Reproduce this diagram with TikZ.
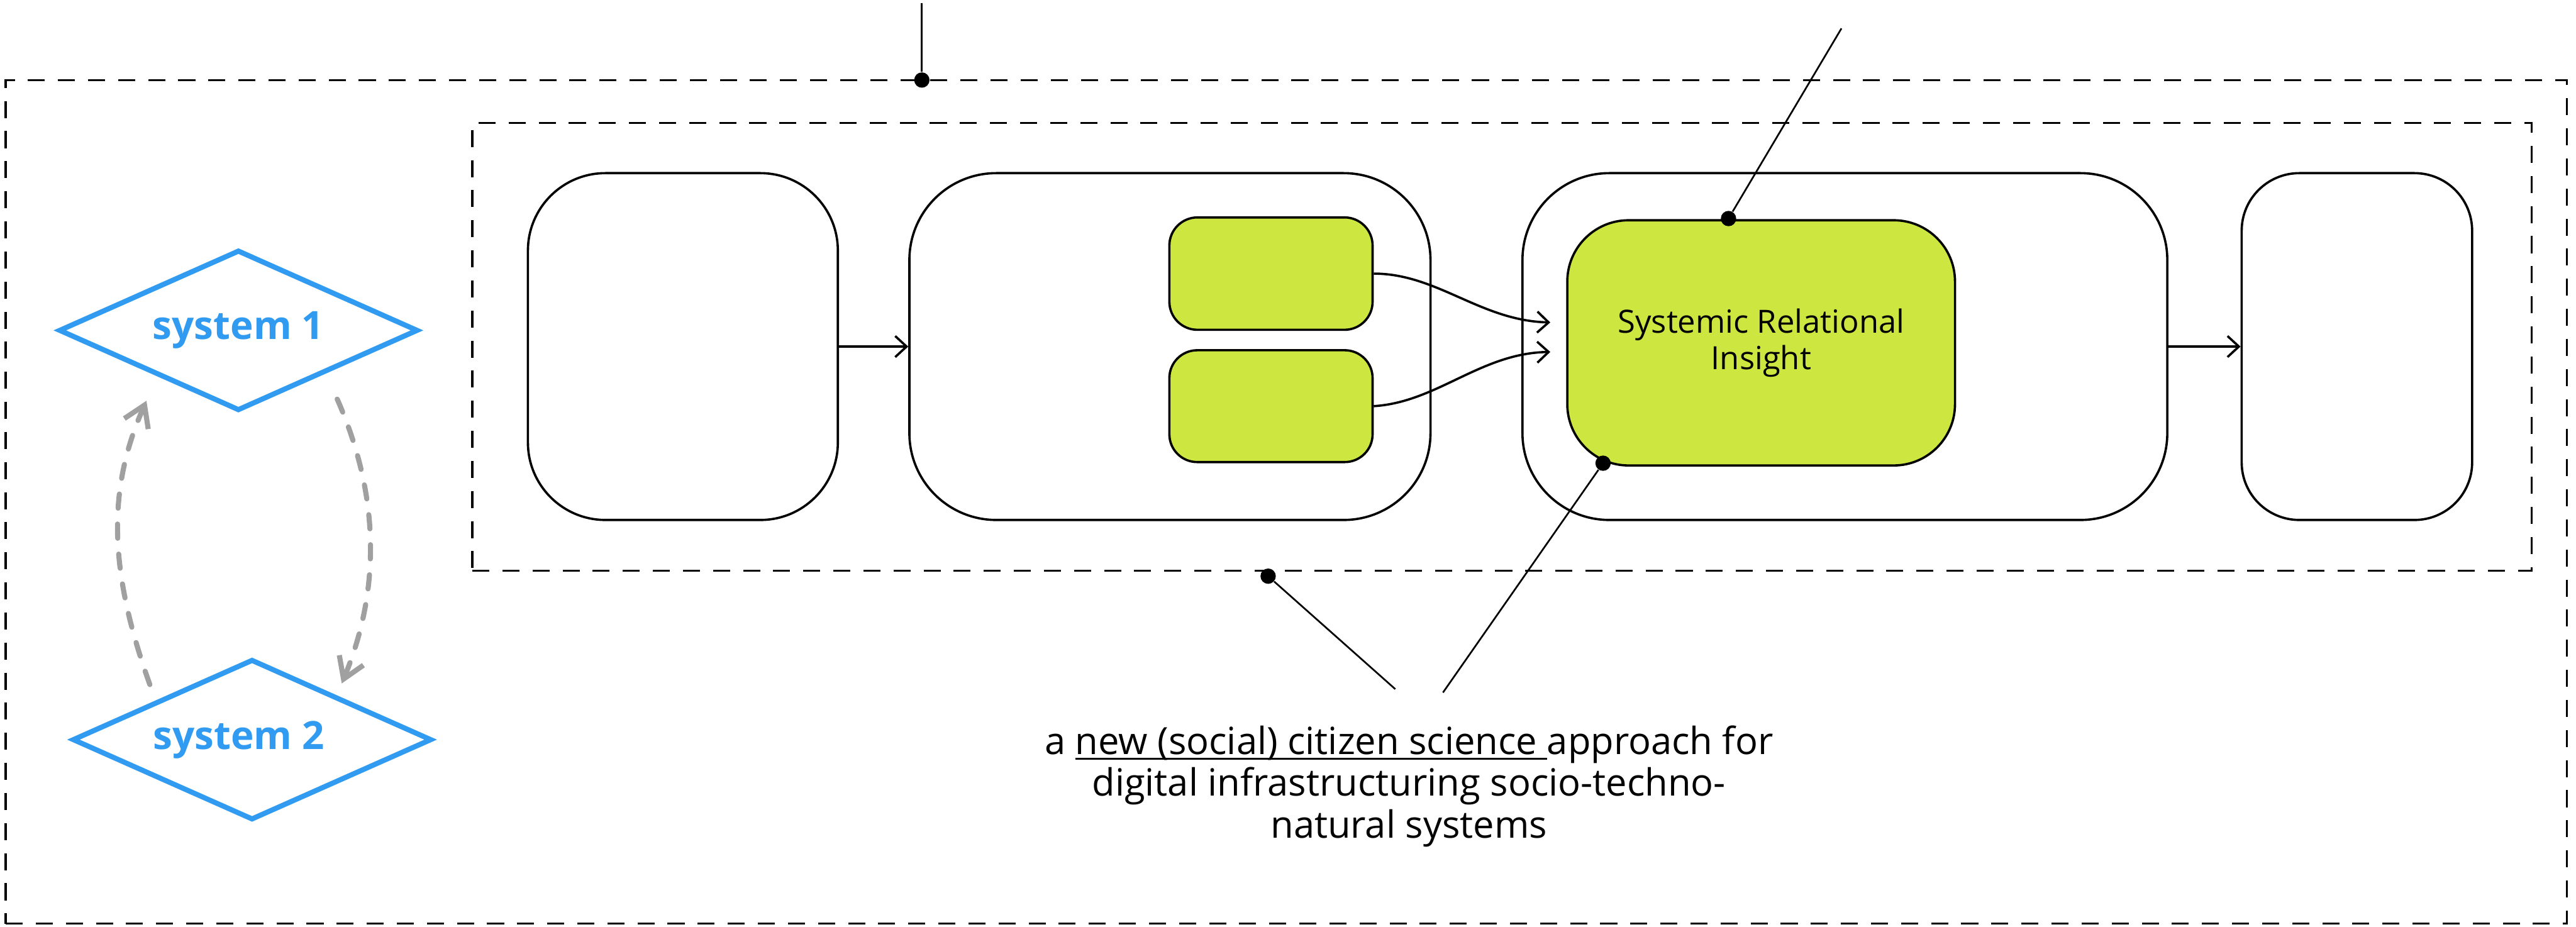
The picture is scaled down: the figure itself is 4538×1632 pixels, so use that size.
\documentclass[tikz,border=0pt]{standalone}
\usepackage{fontspec}
\setmainfont{Open Sans}
\usetikzlibrary{shapes.geometric,arrows.meta,calc}
\definecolor{sysblue}{RGB}{48,155,240}
\definecolor{insight}{RGB}{206,230,64}
\definecolor{loopgray}{RGB}{160,160,160}
% underline drawn as a rule just under the baseline, clear of descenders
\newcommand\lineunder[1]{\setbox0\hbox{#1}\rlap{\rule[-2.8pt]{\wd0}{1pt}}\box0}

\begin{document}
\begin{tikzpicture}[x=0.1mm, y=-0.1mm,
  frame/.style={draw, line width=0.35mm, dash pattern=on 3mm off 2.3mm, inner sep=0pt},
  stage/.style={draw, line width=0.4mm, inner sep=0pt},
  part/.style={stage, fill=insight},
  sysnode/.style={diamond, draw=sysblue, line width=0.9mm, inner sep=0pt, aspect=2.24,
    minimum width=63.3mm, minimum height=28.3mm, text=sysblue,
    font=\bfseries\fontsize{19.5}{23}\selectfont},
  flow/.style={line width=0.4mm, -{Straight Barb[length=2mm, width=3.7mm]}},
  loop/.style={draw=loopgray, line width=0.9mm, line cap=round,
    dash pattern=on 2.5mm off 2.8mm, -{Straight Barb[length=3.6mm, width=4.6mm]}},
  pin/.style={circle, fill=black, inner sep=0pt, minimum size=2.7mm},
  lead/.style={line width=0.3mm}
]
\useasboundingbox (0,0) rectangle (4538,1632);

% dashed frames
\node[frame, minimum width=451.2mm, minimum height=148.6mm] (outer) at (2266,884) {};
\node[frame, minimum width=362.8mm, minimum height=78.8mm] (inner) at (2646,611) {};

% process stages
\node[stage, minimum width=54.6mm, minimum height=61.1mm, rounded corners=13.65mm] (A) at (1203,610.5) {};
\node[stage, minimum width=91.8mm, minimum height=61.1mm, rounded corners=15.3mm] (B) at (2061,610.5) {};
\node[stage, minimum width=113.6mm, minimum height=61.1mm, rounded corners=15.3mm] (C) at (3250,610.5) {};
\node[stage, minimum width=40.6mm, minimum height=61.1mm, rounded corners=10.15mm] (D) at (4152,610.5) {};

% green parts
\node[part, minimum width=35.8mm, minimum height=19.8mm, rounded corners=4.95mm] (g1) at (2239,482) {};
\node[part, minimum width=35.8mm, minimum height=19.7mm, rounded corners=4.9mm] (g2) at (2239,715.5) {};
\node[part, minimum width=68.3mm, minimum height=43.2mm, rounded corners=10.8mm,
  align=center, font=\fontsize{16}{18.2}\selectfont] (big) at (3102.5,604) {Systemic Relational\\Insight};

% flow between stages
\draw[flow] (A) -- (B);
\draw[flow] (C) -- (D);
\coordinate (in1) at ($(big.west)+(-28,-36)$);
\coordinate (in2) at ($(big.west)+(-28,16)$);
\draw[flow] (g1.east) .. controls +(112,0) and +(-123,-3) .. (in1);
\draw[flow] (g2.east) .. controls +(112,-7) and +(-123,2) .. (in2);

% coupled systems
\node[sysnode] (sys1) at (420,582) {system 1};
\node[sysnode] (sys2) at (444,1303) {\hspace*{-4.6mm}system 2};
\draw[loop] ($(sys2.center)+(-180,-97)$) .. controls +(-74,-206) and +(-68,154) .. ($(sys1.center)+(-162,124)$);
\draw[loop] ($(sys1.center)+(174,121)$) .. controls +(76,172) and +(68,-164) .. ($(sys2.center)+(158,-99)$);

% pointer lines
\node[pin] (p1) at (1624,141) {};
\coordinate (t1) at (1624,5);
\draw[lead] (t1) -- (p1);
\node[pin] (p2) at (3045,385) {};
\coordinate (t2) at (3244,50);
\draw[lead] (t2) -- (p2);
\node[pin] (p3) at (2824,816) {};
\coordinate (t3) at (2542,1220);
\draw[lead] (p3) -- (t3);
\node[pin] (p4) at (2234,1015) {};
\coordinate (t4) at (2458,1214);
\draw[lead] (p4) -- (t4);

% caption
\node[align=center, font=\fontsize{18.8}{21}\selectfont] (note) at (2482,1385)
  {a \lineunder{new (social) citizen science\ }approach for\\digital infrastructuring socio-techno-\\natural systems};
\end{tikzpicture}
\end{document}
